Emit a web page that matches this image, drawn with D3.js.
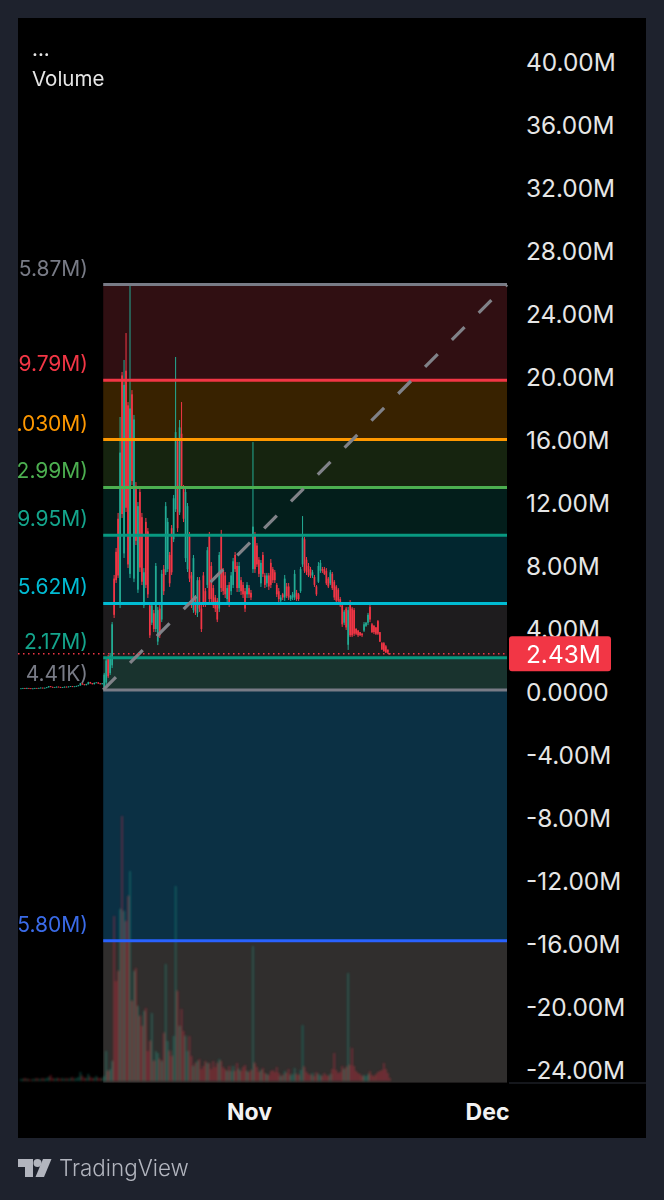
<!DOCTYPE html>
<html><head><meta charset="utf-8">
<script src="https://cdn.jsdelivr.net/npm/d3@7/dist/d3.min.js"></script>
<style>html,body{margin:0;padding:0;background:#1e222d;overflow:hidden}svg{display:block}</style>
</head><body><div id="chart"></div>
<script>
// ---------- data (values in millions) ----------
const priceTicks = [40,36,32,28,24,20,16,12,8,4,0,-4,-8,-12,-16,-20,-24];
const fibLevels  = [25.87,19.79,16.03,12.99,9.95,5.62,2.17,0.134,-15.80];
const fibLabels  = ["5.87M)","9.79M)",".030M)","2.99M)","9.95M)","5.62M)","2.17M)","4.41K)","5.80M)"];
const fibColors  = ["#787b86","#f23645","#ff9800","#4caf50","#089981","#00bcd4","#089981","#787b86","#2962ff"];
const zoneColors = ["#300f12","#382200","#16240f","#031e1b","#02262f","#1e1c1e","#19332e","#0b3044","#302e2d"];
const zoneFloor = -24.8;
const lastPrice = 2.43;
const lastPriceLabel = "2.43M";
const timeTicks = [new Date(Date.UTC(2024,10,1)), new Date(Date.UTC(2024,11,1))];
const timeLabels = ["Nov","Dec"];
const firstCandle = new Date(Date.UTC(2024,9,3,6));
const candleHours = 6;

const candleOpen = [
.22,.22,.24,.21,.25,.23,.2,.22,.24,.23,.25,.27,.24,.26,.3,.36,.32,.29,.3,.33,.31,
.28,.3,.33,.31,.34,.36,.33,.35,.38,.42,.55,.48,.44,.5,.62,.55,.5,.58,.6,.54,.5,
.3,.6,2.2,1.2,1.7,7.2,8.9,11,5.6,20.1,
8.8,20.4,18.2,7.5,18.9,7.2,13.1,6.5,12.7,11.1,
5.5,10.8,10.2,5.5,4.4,5,4,3.2,5.3,4.6,
7.8,7.6,7.8,8.7,10.4,9.7,11.6,15.9,11.4,16.4,
12.9,8.5,7.8,10,7.4,5.2,6,5,7.1,5.3,
7.4,6.4,6.8,9.9,8,6.6,6,5.8,5.3,10,
7.7,7.4,5.9,6.8,6.4,6.8,8.7,8,6.6,7.1,
6.8,6.4,6.2,6.6,6.3,7.8,10,9.3,8.4,6.9,
8.7,7.4,6.9,7.4,8.2,7.8,7.6,6.8,6.4,5.8,
6.2,6,6.7,6.7,5.9,6,6,6.3,6.2,6.4,
8.1,9.7,8.4,8,7.8,7.4,7.3,6.7,7,7.7,
7.8,7.8,7.7,7.2,6.9,7.5,7,6.7,6.5,5.9,
5.5,4.4,5.3,3,5.7,5.3,5.2,4,3.9,3.8,
3.7,3.9,4.2,4.4,5.4,4.3,4.2,4.1,4.5,3.8,
3.1,3.1,2.9,2.7,2.45];

const candleClose = [
.22,.24,.21,.25,.23,.2,.22,.24,.23,.25,.27,.24,.26,.3,.36,.32,.29,.3,.33,.31,.28,
.3,.33,.31,.34,.36,.33,.35,.38,.42,.55,.48,.44,.5,.62,.55,.5,.58,.6,.54,.5,.55,
1.1,2,1,2.3,4.3,4.9,7.1,7.4,15.2,11.3,
19.5,11.7,8.1,18,13.4,17.3,9.6,11.8,7.9,7,
7.6,6.8,6.2,3.6,5.5,4,8,5.2,3.6,7.5,
6.4,11.8,10.8,6.9,7.6,12.3,16.5,10.4,16.8,13.1,
11,12.7,11.8,7.2,5.5,8.5,5.1,7.1,5.3,4,
5.6,5.6,9,5.9,5.9,5.5,5.3,4.6,8.7,6.6,
6.4,6.2,6.6,5.6,7.4,8.3,7.8,6.6,8,6.4,
6.2,5.3,6.8,6.2,6,10.5,7.8,8.1,7.5,8.2,
7.5,6.8,7.4,6.7,6.8,7.1,7.1,6.2,5.9,6,
6,7.2,6.1,6,6.1,6.2,7.5,5.9,5.9,7.8,
9.8,7.7,7.6,7.4,7.4,7.6,6.8,6.2,8,8.2,
7.7,7.5,6.9,6.7,7.6,6.6,6,5.8,5.8,5.5,
4.3,5.1,4.1,5.2,3.6,3.6,3.7,3.7,3.6,3.6,
3.6,4.3,4.4,4.9,4.6,3.8,3.8,3.7,3.7,3.2,
2.7,2.6,2.5,2.5,2.43];

const candleHigh = [
.24,.26,.26,.27,.26,.24,.24,.26,.26,.27,.29,.28,.28,.32,.38,.38,.34,.32,.35,.35,.33,
.32,.35,.35,.36,.38,.38,.37,.4,.44,.58,.57,.5,.52,.65,.64,.57,.6,.63,.62,.56,.57,
1.21,2.16,2.35,2.48,4.44,7.43,9.14,11.37,17.46,20.32,
21.08,22.79,18.41,25.84,19.17,17.59,13.33,12.06,12.95,11.37,
7.87,11.05,10.41,5.71,5.71,5.21,8.19,5.4,5.52,7.75,
8.06,12.06,11.05,8.89,10.6,12.51,21.27,16.13,17.27,18.41,
13.14,12.95,12,10.16,7.62,8.7,6.16,7.3,7.3,5.52,
7.62,6.6,9.21,10.16,8.25,6.79,6.16,5.97,8.89,10.29,
7.87,7.62,6.79,6.98,7.62,8.51,8.89,8.25,8.25,7.3,
6.98,6.6,6.98,6.79,6.48,15.87,10.16,9.46,8.57,8.38,
8.89,7.56,7.56,7.56,8.44,7.94,7.75,6.92,6.6,6.16,
6.29,7.43,6.92,6.92,6.16,6.35,7.75,6.48,6.29,7.94,
11.17,9.84,8.57,8.19,7.94,7.75,7.43,6.79,8.25,8.38,
7.94,7.94,7.87,7.3,7.75,7.62,7.11,6.79,6.6,6.03,
5.65,5.21,5.4,5.4,5.84,5.4,5.33,4.06,3.94,3.81,
3.75,4.44,4.44,5.02,5.52,4.38,4.25,4.13,4.57,3.81,
3.17,3.17,2.98,2.67,2.48];

const candleLow = [
.2,.2,.19,.19,.21,.18,.18,.2,.21,.21,.23,.22,.22,.24,.28,.3,.27,.27,.28,.29,.26,
.26,.28,.29,.29,.32,.31,.31,.33,.36,.4,.46,.42,.42,.48,.53,.48,.48,.56,.52,.48,.48,
.13,.44,.89,1.08,1.52,4.7,6.92,7.24,5.33,11.05,
8.51,11.43,7.87,7.24,13.14,6.98,9.33,6.29,7.62,6.79,
5.33,6.6,5.97,3.43,4.25,3.81,3.81,2.98,3.43,4.44,
6.16,7.43,7.62,6.67,7.43,9.52,11.43,10.16,11.24,12.95,
10.79,8.25,7.62,6.98,5.33,5.02,4.89,4.76,5.08,3.81,
5.4,5.4,6.6,5.71,5.71,5.33,5.08,4.44,5.08,6.35,
6.16,5.97,5.71,5.4,6.16,6.6,7.62,6.35,6.35,6.16,
5.97,5.08,5.97,5.97,5.84,7.56,7.56,7.94,7.3,6.67,
7.3,6.6,6.67,6.48,6.6,6.92,6.92,6.03,5.71,5.71,
5.84,5.78,5.97,5.84,5.78,5.84,5.84,5.78,5.78,6.29,
7.94,7.56,7.43,7.3,7.24,7.24,6.67,6.1,6.92,7.56,
7.56,7.43,6.79,6.6,6.79,6.48,5.84,5.71,5.71,5.4,
4.13,4.25,3.94,2.67,3.49,3.49,3.56,3.62,3.49,3.56,
3.49,3.81,4.13,4.25,4.44,3.75,3.68,3.62,3.62,3.17,
2.67,2.54,2.48,2.41,2.35];

// traded volume, millions of units
const volume = [
.2,.2,.3,.2,.2,.1,.2,.2,.3,.2,.2,.3,.2,.3,.4,.6,.3,.2,.3,.3,.2,
.3,.2,.3,.2,.3,.4,.2,.3,.4,.9,.5,.3,.3,.7,.4,.3,.3,.5,.3,.3,.3,
.5,3,1,1.2,2,16.5,10,11,17.2,26.5,
17,16,18.5,21,8,11,11.3,7.5,6.5,5.5,
7,7.3,3,4,6.8,2,3,2.8,2.2,2,
4.8,11.7,4,3,2.5,4.5,19.5,9,5.5,7.2,
5,4.5,3,4.5,2.5,1.5,1.8,2,2.2,1.2,
1.5,2,1.8,1.8,1.2,2,1.4,1.8,2.2,2,
1.4,1.2,1,1.5,1,1.5,1,1.8,1.2,1,
1.4,1.6,1,.9,1.1,13.5,1.8,1.4,.9,1.1,
1.3,.8,.7,.6,1,1.1,.9,1.4,.8,.5,
.6,1,.8,1.2,.6,.7,1.3,.7,.6,1.1,
5.6,1.4,.9,.7,.6,.8,.5,.9,.7,.6,
.5,.8,.6,.5,.7,1.2,2.8,1.1,.8,.9,
1.5,1.2,1.4,10.8,1.6,3.3,1.5,1,.8,.7,
.5,.6,.5,.7,1,.6,.5,.7,.9,1,
1.1,1.8,1.2,.8,.3];

// ---------- layout ----------
const W = 664, H = 1200;
const pane = {l:18, r:507, t:18, b:1083};
const panel = {l:18, r:646, t:18, b:1138};
const UP = "#22ab94", DOWN = "#f23645";
const font = "Inter, 'Noto Sans', sans-serif";

const y = d3.scaleLinear().domain([40,-24]).range([62,1070]);
const x = d3.scaleUtc().domain(timeTicks).range([249,487]);
const yVol = d3.scaleLinear().domain([0,26.5]).range([1081,816]);
const candleTime = i => d3.utcHour.offset(firstCandle, i*candleHours);

const svg = d3.select("#chart").append("svg").attr("width",W).attr("height",H);
svg.append("rect").attr("width",W).attr("height",H).attr("fill","#1e222d");
svg.append("rect").attr("x",panel.l).attr("y",panel.t)
   .attr("width",panel.r-panel.l).attr("height",panel.b-panel.t).attr("fill","#000");
const defs = svg.append("defs");
defs.append("clipPath").attr("id","pane").append("rect")
   .attr("x",pane.l).attr("y",pane.t).attr("width",pane.r-pane.l).attr("height",pane.b-pane.t);
defs.append("filter").attr("id","soft").attr("x","-5%").attr("y","-5%").attr("width","110%").attr("height","110%")
   .append("feGaussianBlur").attr("stdDeviation",0.55);
defs.append("filter").attr("id","softer").attr("x","-5%").attr("y","-5%").attr("width","110%").attr("height","110%")
   .append("feGaussianBlur").attr("stdDeviation",0.8);

const x0 = x(candleTime(42))-1, x1 = pane.r;

// fib zones
const zoneBounds = fibLevels.map((v,i)=>[v, i+1<fibLevels.length ? fibLevels[i+1] : zoneFloor]);
svg.append("g").selectAll("rect").data(zoneBounds).join("rect")
  .attr("x",x0).attr("width",x1-x0)
  .attr("y",d=>y(d[0])).attr("height",d=>y(d[1])-y(d[0]))
  .attr("fill",(d,i)=>zoneColors[i]);

const idx = d3.range(candleClose.length);
const isUp = i => candleClose[i] >= candleOpen[i];
const plot = svg.append("g").attr("clip-path","url(#pane)");

// volume
plot.append("g").attr("filter","url(#softer)").selectAll("rect").data(idx).join("rect")
  .attr("x",i=>x(candleTime(i))-0.85).attr("width",1.7)
  .attr("y",i=>yVol(volume[i])).attr("height",i=>yVol(0)-yVol(volume[i]))
  .attr("fill",i=>isUp(i)?UP:DOWN).attr("opacity",0.36);

// candles
const candles = plot.append("g").attr("filter","url(#soft)");
candles.append("g").selectAll("line").data(idx).join("line")
  .attr("x1",i=>x(candleTime(i))).attr("x2",i=>x(candleTime(i)))
  .attr("y1",i=>y(candleHigh[i])).attr("y2",i=>y(candleLow[i]))
  .attr("stroke",i=>isUp(i)?UP:DOWN).attr("stroke-width",1);
candles.append("g").selectAll("rect").data(idx).join("rect")
  .attr("x",i=>x(candleTime(i))-0.85).attr("width",1.7)
  .attr("y",i=>y(Math.max(candleOpen[i],candleClose[i])))
  .attr("height",i=>Math.max(0.6,Math.abs(y(candleOpen[i])-y(candleClose[i]))))
  .attr("fill",i=>isUp(i)?UP:DOWN);

// fib lines
svg.append("g").selectAll("line").data(fibLevels).join("line")
  .attr("x1",x0).attr("x2",x1).attr("y1",d=>y(d)).attr("y2",d=>y(d))
  .attr("stroke",(d,i)=>fibColors[i]).attr("stroke-width",3);

// diagonal trend line of the fib tool
svg.append("line")
  .attr("x1",x0).attr("y1",y(fibLevels[7])).attr("x2",x1).attr("y2",y(fibLevels[0]))
  .attr("stroke","#808288").attr("stroke-width",3.2).attr("stroke-dasharray","18 20");

// last price dotted line
svg.append("line").attr("x1",pane.l).attr("x2",pane.r)
  .attr("y1",y(lastPrice)).attr("y2",y(lastPrice))
  .attr("stroke",DOWN).attr("stroke-width",1.5).attr("stroke-dasharray","1.5 3.5");

// fib labels
svg.append("g").selectAll("text").data(fibLevels).join("text")
  .attr("x",88).attr("y",d=>y(d)-9)
  .attr("text-anchor","end")
  .attr("font-family",font).attr("font-size",21)
  .attr("fill",(d,i)=>fibColors[i]==="#2962ff"?"#3a6be8":fibColors[i]==="#089981"?"#14a58c":fibColors[i])
  .text((d,i)=>fibLabels[i]);

// price axis
const fmt = v => v===0 ? "0.0000" : v.toFixed(2)+"M";
const yAxis = svg.append("g").attr("transform","translate(526,0)")
  .call(d3.axisRight(y).tickValues(priceTicks).tickSize(0).tickPadding(0).tickFormat(fmt));
yAxis.select(".domain").remove();
yAxis.selectAll("text").attr("font-family",font).attr("font-size",24.4).attr("fill","#e6e6e6")
  .attr("x",0).attr("dy","0.36em");

// separators
svg.append("line").attr("x1",pane.r+2).attr("x2",panel.r).attr("y1",1083).attr("y2",1083)
  .attr("stroke","#2a2e39").attr("stroke-width",1);

// last price tag
const tag = svg.append("g");
tag.append("rect").attr("x",509).attr("y",y(lastPrice)-17.5).attr("width",102).attr("height",35)
  .attr("rx",3).attr("fill",DOWN);
tag.append("text").attr("x",526).attr("y",y(lastPrice)).attr("dy","0.36em")
  .attr("font-family",font).attr("font-size",24.4).attr("fill","#fff").text(lastPriceLabel);

// time axis
const xAxis = svg.append("g").attr("transform","translate(0,1102)")
  .call(d3.axisBottom(x).tickValues(timeTicks).tickSize(0).tickPadding(0)
        .tickFormat((d,i)=>timeLabels[i]));
xAxis.select(".domain").remove();
xAxis.selectAll("text").attr("font-family",font).attr("font-size",23).attr("font-weight",700)
  .attr("fill","#f2f2f2").attr("y",0).attr("dy","0.8em");

// legend
svg.append("text").attr("x",32).attr("y",56).attr("font-family",font).attr("font-size",20.5).attr("fill","#e6e6e6").text("...");
svg.append("text").attr("x",32).attr("y",86).attr("font-family",font).attr("font-size",20.5).attr("fill","#e6e6e6").text("Volume");

// TradingView mark
const logo = svg.append("g").attr("fill","#b2b5be");
logo.append("path").attr("d","M18 1159H33V1177H25V1167H18Z");
logo.append("circle").attr("cx",37.5).attr("cy",1163).attr("r",4);
logo.append("path").attr("d","M43 1159H51.5L44 1177H35.5Z");
svg.append("text").attr("x",59).attr("y",1176).attr("font-family",font).attr("font-size",22.4)
  .attr("font-weight",300).attr("fill","#b2b5be").text("TradingView");
</script></body></html>
